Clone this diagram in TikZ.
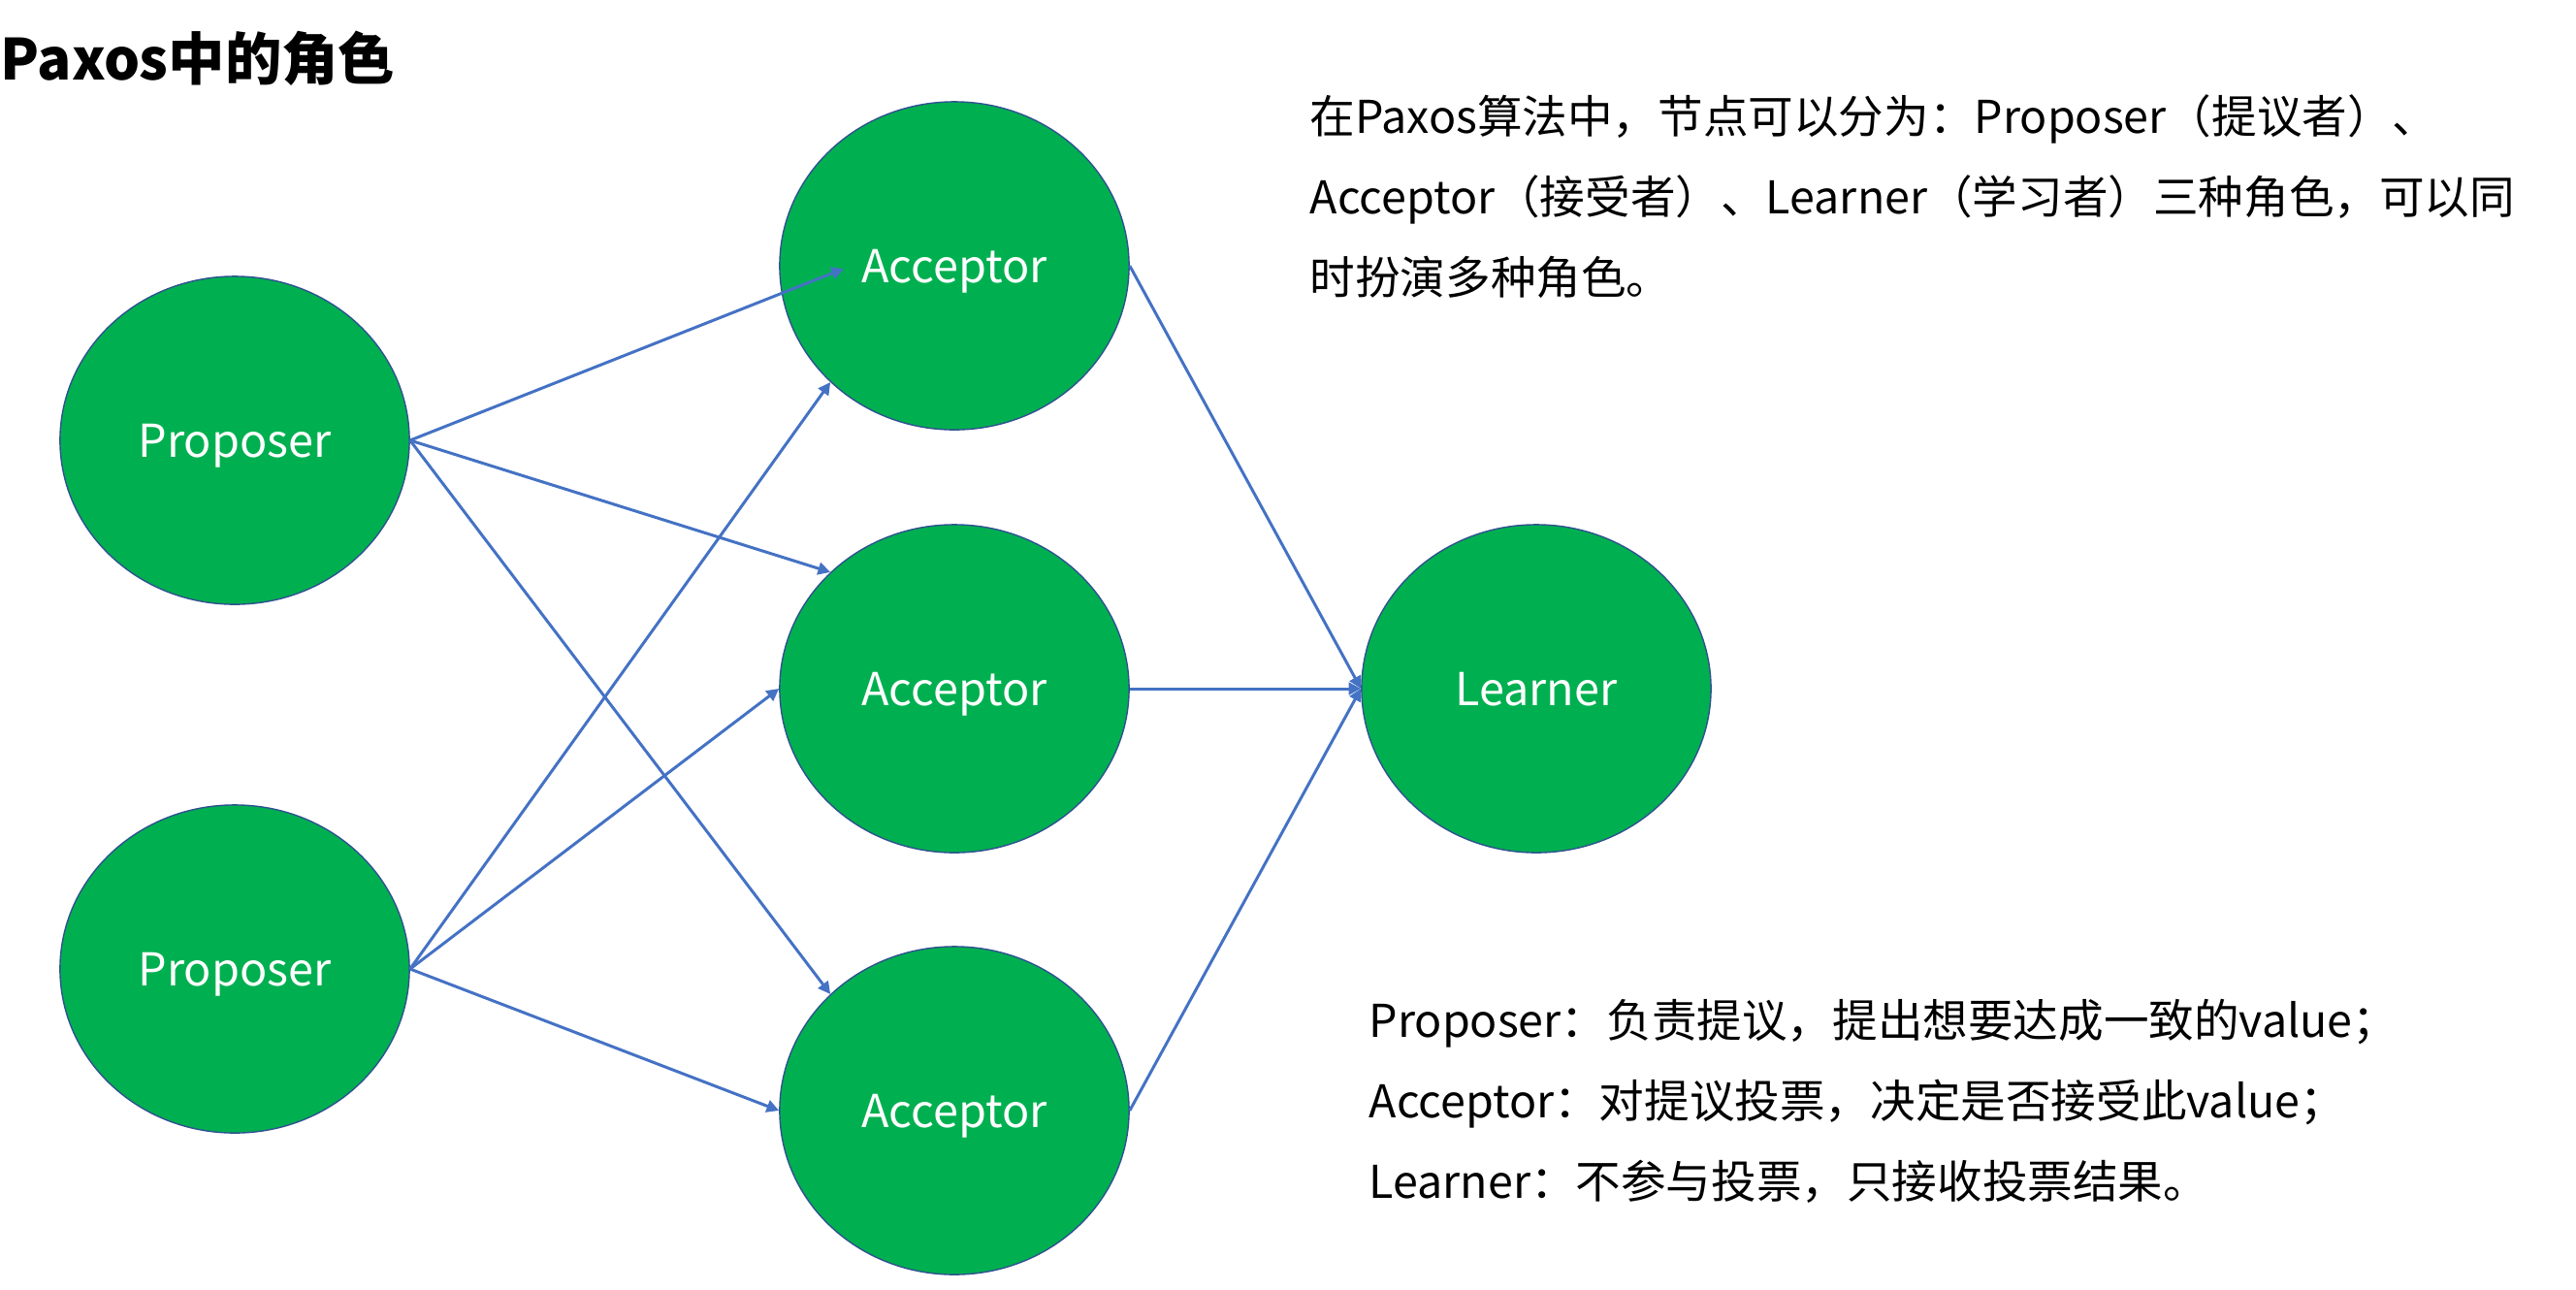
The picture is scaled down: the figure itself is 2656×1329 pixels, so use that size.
\documentclass[tikz,border=0pt]{standalone}
\usepackage{fontspec}
\setmainfont{Noto Sans CJK SC}
\usetikzlibrary{shapes.geometric,arrows.meta}
\definecolor{rolegreen}{HTML}{00B050}
\definecolor{roleedge}{HTML}{2F528F}
\definecolor{linkblue}{HTML}{4472C4}
\begin{document}
\begin{tikzpicture}[x=0.01cm,y=-0.01cm,
  role/.style={ellipse,draw=roleedge,line width=0.4pt,fill=rolegreen,minimum width=3.6cm,minimum height=3.38cm,inner sep=0pt,text=white,text height=0.97em,text depth=0pt,font=\fontsize{13.3}{16}\selectfont},
  link/.style={draw=linkblue,line width=0.85pt,-{Triangle[length=3.6pt,width=3.6pt]}},
  note/.style={anchor=base west,align=left,inner sep=0pt,font=\fontsize{13.25}{23.6}\selectfont}]
\useasboundingbox (0,0) rectangle (2656,1329);

\node[anchor=base west,inner sep=0pt,font=\fontsize{16.6}{20}\selectfont\bfseries] (title) at (0,82) {Paxos中的角色};

\node[role] (p1) at (242,454) {Proposer};
\node[role] (p2) at (242,999) {Proposer};
\node[role] (a1) at (984,274) {Acceptor};
\node[role] (a2) at (984,710) {Acceptor};
\node[role] (a3) at (984,1145) {Acceptor};
\node[role] (lrn) at (1584,710) {Learner};
\coordinate (a1in) at (870,277);

\draw[link] (p1.east) -- (a1in);
\draw[link] (p1.east) -- (a2.north west);
\draw[link] (p1.east) -- (a3.north west);
\draw[link] (p2.east) -- (a1.south west);
\draw[link] (p2.east) -- (a2.west);
\draw[link] (p2.east) -- (a3.west);
\draw[link] (a1.east) -- (lrn.west);
\draw[link] (a2.east) -- (lrn.west);
\draw[link] (a3.east) -- (lrn.west);

\node[note] (intro) at (1350,303) {在Paxos算法中，节点可以分为：Proposer（提议者）、\\Acceptor（接受者）、Learner（学习者）三种角色，可以同\\时扮演多种角色。};
\node[note] (duty) at (1411,1235) {Proposer：负责提议，提出想要达成一致的value；\\Acceptor：对提议投票，决定是否接受此value；\\Learner：不参与投票，只接收投票结果。};
\end{tikzpicture}
\end{document}
